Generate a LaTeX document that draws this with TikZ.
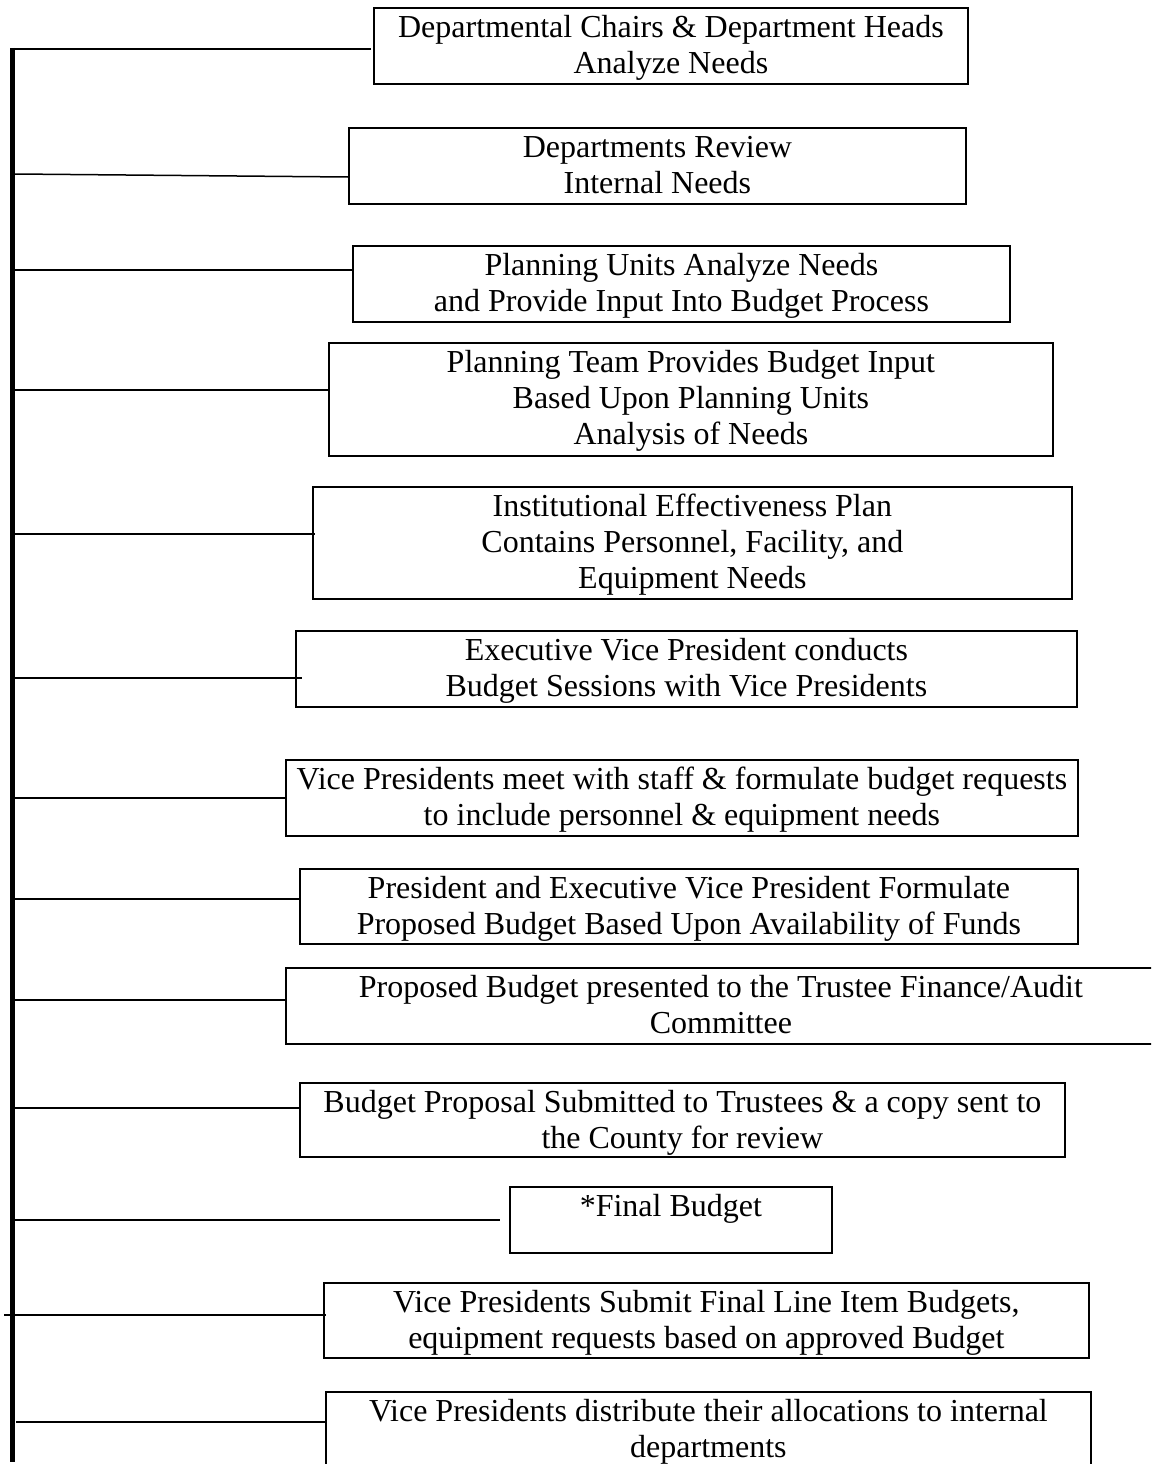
\documentclass[tikz,border=0pt]{standalone}
\usepackage{fontspec}
\setmainfont{Liberation Serif}
\begin{document}
\begin{tikzpicture}[x=1pt,y=-1pt,
  stepbox/.style={draw, line width=1.8pt, inner sep=0pt, anchor=north west},
  steptext/.style={anchor=north, align=center, inner sep=0pt, font=\fontsize{32}{36}\selectfont},
  conn/.style={line width=1.5pt},
  spine/.style={line width=5.5pt}]
\useasboundingbox (0,0) rectangle (1151,1464);
\clip (0,0) rectangle (1151,1464);
\newcommand\mkbox[6]{%
  \node[stepbox, minimum width=#4-#2, minimum height=#5-#3] (#1) at (#2,#3) {};
  \node[steptext] (#1t) at (#1.north) {\rule{0pt}{30pt}#6};}
\mkbox{b1}{373}{7}{967}{83}{Departmental Chairs \& Department Heads\\Analyze Needs}
\mkbox{b2}{348}{127}{965}{203}{Departments Review\\Internal Needs}
\mkbox{b3}{352}{245}{1009}{321}{Planning Units Analyze Needs\\and Provide Input Into Budget Process}
\mkbox{b4}{328}{342}{1052}{455}{Planning Team Provides Budget Input\\Based Upon Planning Units\\Analysis of Needs}
\mkbox{b5}{312}{486}{1071}{598}{Institutional Effectiveness Plan\\Contains Personnel, Facility, and\\Equipment Needs}
\mkbox{b6}{295}{630}{1076}{706}{Executive Vice President conducts\\Budget Sessions with Vice Presidents}
\mkbox{b7}{285}{759}{1077}{835}{Vice Presidents meet with staff \& formulate budget requests\\to include personnel \& equipment needs}
\mkbox{b8}{299}{868}{1077}{943}{President and Executive Vice President Formulate\\Proposed Budget Based Upon Availability of Funds}
\mkbox{b9}{285}{967}{1155}{1043}{Proposed Budget presented to the Trustee Finance/Audit\\Committee}
\mkbox{b10}{299}{1082}{1064}{1156}{Budget Proposal Submitted to Trustees \& a copy sent to\\the County for review}
\mkbox{b11}{509}{1186}{831}{1252}{*Final Budget}
\mkbox{b12}{323}{1282}{1088}{1357}{Vice Presidents Submit Final Line Item Budgets,\\equipment requests based on approved Budget}
\mkbox{b13}{325}{1391}{1090}{1480}{Vice Presidents distribute their allocations to internal\\departments}
% spine
\coordinate (top) at (12.5,48);
\coordinate (bot) at (12.5,1462);
\draw[spine] (top) -- (bot);
% connectors
\coordinate (s1) at (10,49);     \coordinate (e1) at (371,49);
\coordinate (s2) at (15,174);    \coordinate (e2) at (348,177);
\coordinate (s3) at (15,270);
\coordinate (s4) at (10,390);
\coordinate (s5) at (12,534);
\coordinate (s6) at (15,678);
\coordinate (s7) at (15,798);
\coordinate (s8) at (15,899);
\coordinate (s9) at (15,1000);
\coordinate (s10) at (15,1108);
\coordinate (s11) at (15,1220);  \coordinate (e11) at (500,1220);
\coordinate (s12) at (4,1315);
\coordinate (s13) at (16,1422);
\draw[conn] (s1) -- (e1);
\draw[conn] (s2) -- (e2);
\draw[conn] (s3) -- (s3 -| b3.west);
\draw[conn] (s4) -- (s4 -| b4.west);
\draw[conn] (s5) -- ([xshift=3pt]s5 -| b5.west);
\draw[conn] (s6) -- ([xshift=7pt]s6 -| b6.west);
\draw[conn] (s7) -- (s7 -| b7.west);
\draw[conn] (s8) -- ([xshift=2pt]s8 -| b8.west);
\draw[conn] (s9) -- (s9 -| b9.west);
\draw[conn] (s10) -- ([xshift=2pt]s10 -| b10.west);
\draw[conn] (s11) -- (e11);
\draw[conn] (s12) -- ([xshift=3pt]s12 -| b12.west);
\draw[conn] (s13) -- (s13 -| b13.west);
\end{tikzpicture}
\end{document}
